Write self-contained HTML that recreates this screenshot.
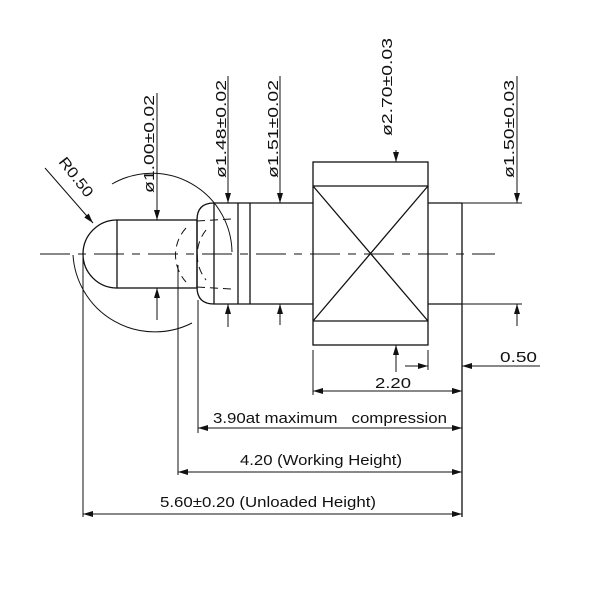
<!DOCTYPE html>
<html><head><style>html,body{margin:0;padding:0;background:#fff}svg{display:block}</style></head><body>
<svg width="600" height="600" viewBox="0 0 600 600" xmlns="http://www.w3.org/2000/svg" font-family="Liberation Sans, sans-serif" font-size="15" fill="none" stroke="#111" stroke-width="1.3">
<defs><marker id="a" markerWidth="10" markerHeight="6" refX="10" refY="3" orient="auto" markerUnits="userSpaceOnUse"><path d="M0,0 L10,3 L0,6 z" fill="#111" stroke="none"/></marker></defs>
<!-- centerline -->
<line x1="40" y1="254" x2="495" y2="254" stroke-dasharray="30,8,8,8" stroke-width="1"/>
<!-- tip -->
<path d="M117,220 A34,34 0 0 0 117,288"/>
<rect x="117" y="220" width="80" height="68"/>
<!-- head -->
<path d="M214,203 Q197,203 197,220 L197,287 Q197,304 214,304"/>
<line x1="214" y1="203" x2="313" y2="203"/><line x1="214" y1="304" x2="313" y2="304"/>
<line x1="214" y1="203" x2="214" y2="304"/><line x1="238" y1="203" x2="238" y2="304"/><line x1="250" y1="203" x2="250" y2="304"/>
<g stroke-dasharray="8,5" stroke-width="1">
<path d="M186,228 A40,40 0 0 0 186,282"/>
<path d="M206,230 A40,40 0 0 0 206,280"/>
<line x1="197" y1="221" x2="232" y2="219"/><line x1="197" y1="287" x2="232" y2="289"/>
</g>
<!-- big R arc -->
<path d="M112,184 A80,80 0 0 1 232,252" stroke-width="1"/>
<path d="M73,255 A82,82 0 0 0 192,323" stroke-width="1"/>
<!-- body -->
<rect x="313" y="162" width="115" height="183"/>
<line x1="313" y1="186" x2="428" y2="186"/><line x1="313" y1="321" x2="428" y2="321"/>
<line x1="313" y1="186" x2="428" y2="321"/><line x1="428" y1="186" x2="313" y2="321"/>
<line x1="428" y1="203" x2="462" y2="203"/><line x1="428" y1="304" x2="462" y2="304"/>
<line x1="462" y1="203" x2="462" y2="517"/>
<line x1="462" y1="203" x2="522" y2="203" stroke-width="1"/><line x1="462" y1="304" x2="522" y2="304" stroke-width="1"/>
<!-- leaders -->
<g stroke-width="1">
<line x1="157" y1="93" x2="157" y2="220" marker-end="url(#a)"/><line x1="157" y1="320" x2="157" y2="288" marker-end="url(#a)"/>
<line x1="228" y1="76" x2="228" y2="203" marker-end="url(#a)"/><line x1="228" y1="327" x2="228" y2="304" marker-end="url(#a)"/>
<line x1="280" y1="76" x2="280" y2="203" marker-end="url(#a)"/><line x1="280" y1="325" x2="280" y2="304" marker-end="url(#a)"/>
<line x1="396" y1="150" x2="396" y2="162" marker-end="url(#a)"/><line x1="396" y1="372" x2="396" y2="345" marker-end="url(#a)"/>
<line x1="517" y1="76" x2="517" y2="203" marker-end="url(#a)"/><line x1="517" y1="326" x2="517" y2="304" marker-end="url(#a)"/>
<line x1="45" y1="168" x2="93" y2="223" marker-end="url(#a)"/>
<!-- extensions -->
<line x1="83" y1="256" x2="83" y2="517"/><line x1="178" y1="265" x2="178" y2="475"/><line x1="198" y1="300" x2="198" y2="433"/>
<line x1="313" y1="350" x2="313" y2="395"/><line x1="428" y1="350" x2="428" y2="370"/>
<!-- dims -->
<line x1="405" y1="366" x2="428" y2="366" marker-end="url(#a)"/>
<line x1="540" y1="366" x2="462" y2="366" marker-end="url(#a)"/>
<line x1="313" y1="391" x2="462" y2="391" marker-start="url(#a)" marker-end="url(#a)" style="marker-start:none"/>
<line x1="387" y1="391" x2="313" y2="391" marker-end="url(#a)"/><line x1="387" y1="391" x2="462" y2="391" marker-end="url(#a)"/>
<line x1="330" y1="428" x2="198" y2="428" marker-end="url(#a)"/><line x1="330" y1="428" x2="462" y2="428" marker-end="url(#a)"/>
<line x1="320" y1="472" x2="178" y2="472" marker-end="url(#a)"/><line x1="320" y1="472" x2="462" y2="472" marker-end="url(#a)"/>
<line x1="270" y1="514" x2="83" y2="514" marker-end="url(#a)"/><line x1="270" y1="514" x2="462" y2="514" marker-end="url(#a)"/>
</g>
<g fill="#111" stroke="none">
<text transform="translate(154,193) rotate(-90)" textLength="98" lengthAdjust="spacingAndGlyphs">ø1.00±0.02</text>
<text transform="translate(226,178) rotate(-90)" textLength="98" lengthAdjust="spacingAndGlyphs">ø1.48±0.02</text>
<text transform="translate(278,178) rotate(-90)" textLength="98" lengthAdjust="spacingAndGlyphs">ø1.51±0.02</text>
<text transform="translate(392,136) rotate(-90)" textLength="98" lengthAdjust="spacingAndGlyphs">ø2.70±0.03</text>
<text transform="translate(514,178) rotate(-90)" textLength="98" lengthAdjust="spacingAndGlyphs">ø1.50±0.03</text>
<text transform="translate(58,162) rotate(52)" textLength="46" lengthAdjust="spacingAndGlyphs">R0.50</text>
<text x="500" y="362" textLength="37" lengthAdjust="spacingAndGlyphs">0.50</text>
<text x="375" y="388" textLength="36" lengthAdjust="spacingAndGlyphs">2.20</text>
<text x="213" y="423" textLength="234" lengthAdjust="spacingAndGlyphs" xml:space="preserve">3.90at maximum   compression</text>
<text x="240" y="465" textLength="162" lengthAdjust="spacingAndGlyphs">4.20 (Working Height)</text>
<text x="160" y="507" textLength="216" lengthAdjust="spacingAndGlyphs">5.60±0.20 (Unloaded Height)</text>
</g>
</svg>
</body></html>
